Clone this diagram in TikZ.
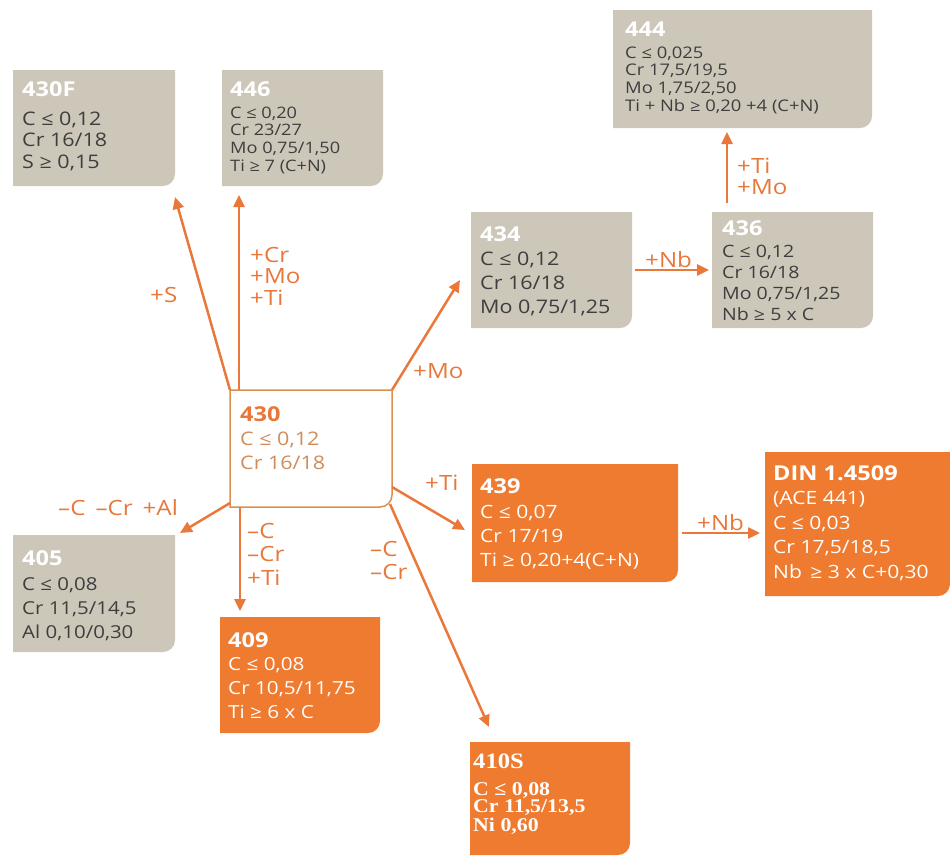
\documentclass[tikz,border=0pt]{standalone}
\usepackage{fontspec}
\setmainfont{Open Sans}[FakeStretch=1.15]
\newfontfamily\serifbf{Liberation Serif Bold}[FakeStretch=1.12]
\usetikzlibrary{arrows.meta,calc}
\definecolor{boxgray}{HTML}{CDC7BA}
\definecolor{boxorange}{HTML}{EE7B30}
\definecolor{txtgray}{HTML}{3E3E3E}
\definecolor{arroworange}{HTML}{E9783A}
\definecolor{lbl}{HTML}{E8773A}
\definecolor{muted}{HTML}{CF8D5C}
\definecolor{frameor}{HTML}{DB8F50}
\newcommand{\cornerbox}[3]{%
  \path[fill=#2,draw=#3,line width=1.5pt] (#1.north west) -- (#1.north east)
    -- ([yshift=12pt]#1.south east) arc[start angle=0,end angle=-90,radius=12pt]
    -- (#1.south west) -- cycle;}
\newcommand{\hd}[2][white]{{\bfseries\fontsize{20.5}{20.5}\selectfont\color{#1}#2}}
\newcommand{\lines}[1]{\begin{tabular}[t]{@{}l@{}}#1\end{tabular}}
\tikzset{
  boxn/.style={anchor=north west, inner sep=0pt, outer sep=0pt, draw=none},
  txt/.style={anchor=base west, inner sep=0pt, text=txtgray},
  wtxt/.style={anchor=base west, inner sep=0pt, text=white},
  lab/.style={anchor=base west, inner sep=0pt, text=lbl,
    font=\fontsize{21}{21.5}\selectfont},
  arr/.style={draw=arroworange, line width=2.5pt, -{Triangle[length=12pt,width=11pt]}},
}
\begin{document}
\begin{tikzpicture}[x=1pt,y=1pt]
\useasboundingbox (0,0) rectangle (950,-855);
% boxes
\node[boxn, minimum width=162pt, minimum height=116pt] (n430F) at (13,-70) {};
\node[boxn, minimum width=161pt, minimum height=116pt] (n446) at (222,-70) {};
\node[boxn, minimum width=259pt, minimum height=118pt] (n444) at (613,-10) {};
\node[boxn, minimum width=161pt, minimum height=116pt] (n434) at (471,-212) {};
\node[boxn, minimum width=161pt, minimum height=116pt] (n436) at (712,-212) {};
\node[boxn, minimum width=162pt, minimum height=117pt] (n430) at (230,-390) {};
\node[boxn, minimum width=162pt, minimum height=117pt] (n405) at (13,-535) {};
\node[boxn, minimum width=160pt, minimum height=116pt] (n409) at (220,-617) {};
\node[boxn, minimum width=206pt, minimum height=118pt] (n439) at (472,-464) {};
\node[boxn, minimum width=185pt, minimum height=144pt] (nDIN) at (765,-452) {};
\node[boxn, minimum width=160pt, minimum height=113pt] (n410S) at (470,-742) {};
\cornerbox{n430F}{boxgray}{none}
\cornerbox{n446}{boxgray}{none}
\cornerbox{n444}{boxgray}{none}
\cornerbox{n434}{boxgray}{none}
\cornerbox{n436}{boxgray}{none}
\cornerbox{n430}{white}{frameor}
\cornerbox{n405}{boxgray}{none}
\cornerbox{n409}{boxorange}{none}
\cornerbox{n439}{boxorange}{none}
\cornerbox{nDIN}{boxorange}{none}
\cornerbox{n410S}{boxorange}{none}
% texts
\node[txt, font=\fontsize{18.7}{21.5}\selectfont] (t430F) at (22,-96)
  {\lines{\hd{430F}\\[7.5pt] C ≤ 0,12\\ Cr 16/18\\ S ≥ 0,15}};
\node[txt, font=\fontsize{15.8}{17.7}\selectfont] (t446) at (230,-96)
  {\lines{\hd{446}\\[4.3pt] C ≤ 0,20\\ Cr 23/27\\ Mo 0,75/1,50\\ Ti ≥ 7 (C+N)}};
\node[txt, font=\fontsize{16}{17.7}\selectfont] (t444) at (625,-36)
  {\lines{\hd{444}\\[4.3pt] C ≤ 0,025\\ Cr 17,5/19,5\\ Mo 1,75/2,50\\ Ti + Nb ≥ 0,20 +4 (C+N)}};
\node[txt, font=\fontsize{18.7}{24}\selectfont] (t434) at (480,-241)
  {\lines{\hd{434}\\ C ≤ 0,12\\ Cr 16/18\\ Mo 0,75/1,25}};
\node[txt, font=\fontsize{17}{21}\selectfont] (t436) at (722,-235)
  {\lines{\hd{436}\\[1pt] C ≤ 0,12\\ Cr 16/18\\ Mo 0,75/1,25\\ Nb ≥ 5 x C}};
\node[txt, text=muted, font=\fontsize{18.7}{24}\selectfont] (t430) at (240,-421)
  {\lines{\hd[lbl]{430}\\ C ≤ 0,12\\ Cr 16/18}};
\node[txt, font=\fontsize{17.8}{24}\selectfont] (t405) at (22,-565)
  {\lines{\hd{405}\\[1pt] C ≤ 0,08\\ Cr 11,5/14,5\\ Al 0,10/0,30}};
\node[wtxt, font=\fontsize{18}{23.7}\selectfont] (t409) at (228,-647)
  {\lines{\hd{409}\\ C ≤ 0,08\\ Cr 10,5/11,75\\ Ti ≥ 6 x C}};
\node[wtxt, font=\fontsize{18.3}{24.3}\selectfont] (t439) at (480,-493)
  {\lines{\hd{439}\\[1pt] C ≤ 0,07\\ Cr 17/19\\ Ti ≥ 0,20+4(C+N)}};
\node[wtxt, font=\fontsize{18.3}{24.5}\selectfont] (tDIN) at (773,-480)
  {\lines{\hd{DIN 1.4509}\\ (ACE 441)\\ C ≤ 0,03\\ Cr 17,5/18,5\\ Nb\, ≥ 3 x C+0,30}};
\node[wtxt, font=\serifbf\fontsize{22}{22}\selectfont] (h410S) at (473,-768) {410S};
\node[wtxt, font=\serifbf\fontsize{19.5}{16.8}\selectfont] (t410S) at (473,-795)
  {\lines{C ≤ 0,08\\ Cr 11,5/13,5\\ Ni 0,60}};
% arrows
\draw[arr] (n430.north west) -- ([yshift=-11]n430F.south east);
\draw[arr] ([xshift=9]n430.north west) -- ([shift={(17,-9)}]n446.south west);
\draw[arr] (n430.north east) -- ([shift={(-11,-10)}]n434.west);
\draw[arr] ([xshift=3]n434.east) -- ([xshift=-3]n436.west);
\draw[arr] ([shift={(15,9)}]n436.north west) -- ([shift={(114,-4)}]n444.south west);
\draw[arr] ([yshift=-97]n430.north east) -- ([shift={(-7,-7)}]n439.west);
\draw[arr] ([shift={(-2,3)}]n430.south east) -- ([shift={(19,15)}]n410S.north west);
\draw[arr] ([xshift=10]n430.south west) -- ([shift={(20,6)}]n409.north west);
\draw[arr] ([yshift=4]n430.south west) -- ([shift={(5,2)}]n405.north east);
\draw[arr] ([shift={(4,-10)}]n439.east) -- ([shift={(-5,-9)}]nDIN.west);
% labels
\node[lab] (l1) at (150,-302) {+S};
\node[lab] (l2) at (250,-262) {\lines{+Cr\\+Mo\\+Ti}};
\node[lab] (l3) at (413,-378) {+Mo};
\node[lab] (l4) at (645,-267) {+Nb};
\node[lab] (l5) at (737,-173) {\lines{+Ti\\+Mo}};
\node[lab] (l6) at (58,-515) {–C\hspace{10pt}–Cr\hspace{10pt}+Al};
\node[lab, font=\fontsize{21}{23.5}\selectfont] (l7) at (247,-538) {\lines{–C\\–Cr\\+Ti}};
\node[lab, font=\fontsize{21}{23}\selectfont] (l8) at (370,-556) {\lines{–C\\–Cr}};
\node[lab] (l9) at (425,-490) {+Ti};
\node[lab] (l10) at (697,-530) {+Nb};
\end{tikzpicture}
\end{document}
